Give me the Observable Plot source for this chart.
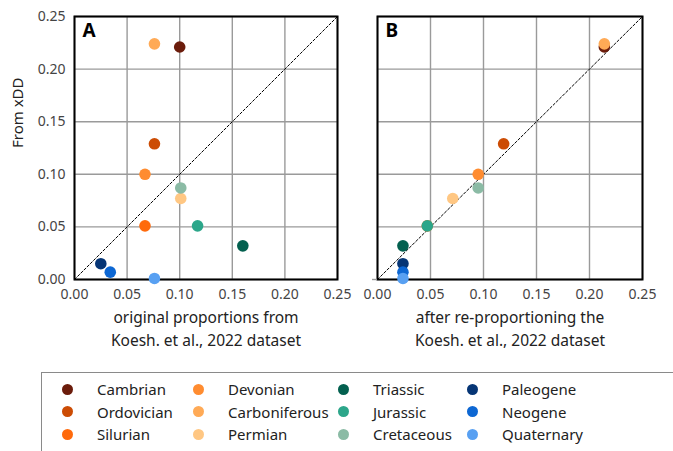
<!DOCTYPE html>
<html>
<head>
<meta charset="utf-8">
<script src="https://cdn.jsdelivr.net/npm/d3@7"></script>
<script src="https://cdn.jsdelivr.net/npm/@observablehq/plot@0.6"></script>
<style>
  html, body { margin: 0; padding: 0; background: #fff; }
  body { width: 673px; height: 451px; overflow: hidden; font-family: "Noto Sans", sans-serif; }
  #panels { display: flex; flex-direction: row; }
  #legend {
    position: absolute; left: 41px; top: 372px; width: 660px; height: 100px;
    border: 1px solid #8a8a8a; box-sizing: border-box;
    display: grid; grid-template-columns: 131px 145px 129px auto;
    grid-auto-flow: column; grid-template-rows: repeat(3, 22.5px);
    padding: 5px 0 0 20px;
  }
  .item { display: flex; align-items: center; font-size: 15px; color: #222; white-space: nowrap; }
  .swatch { width: 11px; height: 11px; border-radius: 50%; margin-right: 24px; flex: none; }
</style>
</head>
<body>
<div id="panels"></div>
<div id="legend"></div>
<script>
// Geological periods, in stratigraphic order
const periods = ["Cambrian", "Ordovician", "Silurian", "Devonian", "Carboniferous", "Permian",
                 "Triassic", "Jurassic", "Cretaceous", "Paleogene", "Neogene", "Quaternary"];
const colors = ["#6b1c0b", "#cc4c04", "#ff6a0c", "#ff8c30", "#ffaa56", "#ffc783",
                "#03604f", "#2ca68a", "#8bbba5", "#063575", "#0d67d3", "#58a0f2"];

// Proportion of records per period from xDD
const fromXDD = [0.221, 0.129, 0.051, 0.100, 0.224, 0.077, 0.032, 0.051, 0.087, 0.015, 0.007, 0.001];
// Original proportions in the Koesh. et al., 2022 dataset
const original = [0.100, 0.076, 0.067, 0.067, 0.076, 0.101, 0.160, 0.117, 0.101, 0.025, 0.034, 0.076];
// Proportions after re-proportioning that dataset
const reproportioned = [0.214, 0.119, 0.047, 0.095, 0.214, 0.071, 0.024, 0.047, 0.095, 0.024, 0.024, 0.024];

const ticks = [0, 0.05, 0.10, 0.15, 0.20, 0.25];
const identityLine = [0, 0.25];

const font = "Noto Sans, sans-serif";

function panel({letter, xs, label, width, marginLeft, marginRight, showY}) {
  const data = periods.map((p, i) => ({period: p, x: xs[i], y: fromXDD[i]}));
  const marks = [
    Plot.gridX(ticks, {stroke: "#9a9a9a", strokeOpacity: 1, strokeWidth: 1.4}),
    Plot.gridY(ticks, {stroke: "#9a9a9a", strokeOpacity: 1, strokeWidth: 1.4}),
    Plot.line(identityLine.map(v => ({x: v, y: v})), {x: "x", y: "y", stroke: "#000", strokeWidth: 1, strokeDasharray: "2.5,2"}),
    Plot.frame({stroke: "#000", strokeWidth: 2}),
    Plot.axisX(ticks, {tickSize: 0, tickPadding: 10, tickFormat: d3.format(".2f"), fontSize: 14, fill: "#444", label: null}),
    Plot.dot(data, {x: "x", y: "y", r: 5.8, fill: "period", stroke: "none"}),
    Plot.text([letter], {frameAnchor: "top-left", dx: 8, dy: 7, lineAnchor: "top", fontSize: 19, fontWeight: "bold", fill: "#000"}),
    Plot.text([label], {frameAnchor: "bottom", dy: 28, lineAnchor: "top", lineHeight: 1.45, fontSize: 15.5, fill: "#222"})
  ];
  if (showY) {
    marks.push(Plot.axisY(ticks, {tickSize: 0, tickPadding: 9, tickFormat: d3.format(".2f"), fontSize: 14, fill: "#444", label: null}));
    marks.push(Plot.text(["From xDD"], {frameAnchor: "left", dx: -56, rotate: -90, fontSize: 15, fill: "#222"}));
  } else {
    // shared y scale: only a short stub at zero, no labels
    marks.push(Plot.axisY([0], {tickSize: 5, stroke: "#9a9a9a", strokeWidth: 1.4, text: null, label: null}));
  }
  return Plot.plot({
    width, height: 355,
    marginLeft, marginRight, marginTop: 16, marginBottom: 76,
    style: {fontFamily: font, background: "transparent", overflow: "visible"},
    x: {domain: [0, 0.25]},
    y: {domain: [0, 0.25]},
    color: {domain: periods, range: colors},
    marks
  });
}

const container = document.getElementById("panels");
container.append(panel({
  letter: "A", xs: original,
  label: "original proportions from\nKoesh. et al., 2022 dataset",
  width: 350, marginLeft: 74, marginRight: 13, showY: true
}));
container.append(panel({
  letter: "B", xs: reproportioned,
  label: "after re-proportioning the\nKoesh. et al., 2022 dataset",
  width: 323, marginLeft: 27, marginRight: 31, showY: false
}));

// Legend: one swatch per period, three rows per column
const legend = document.getElementById("legend");
periods.forEach((p, i) => {
  const item = document.createElement("div");
  item.className = "item";
  const sw = document.createElement("span");
  sw.className = "swatch";
  sw.style.background = colors[i];
  item.append(sw, document.createTextNode(p));
  legend.append(item);
});
</script>
</body>
</html>
